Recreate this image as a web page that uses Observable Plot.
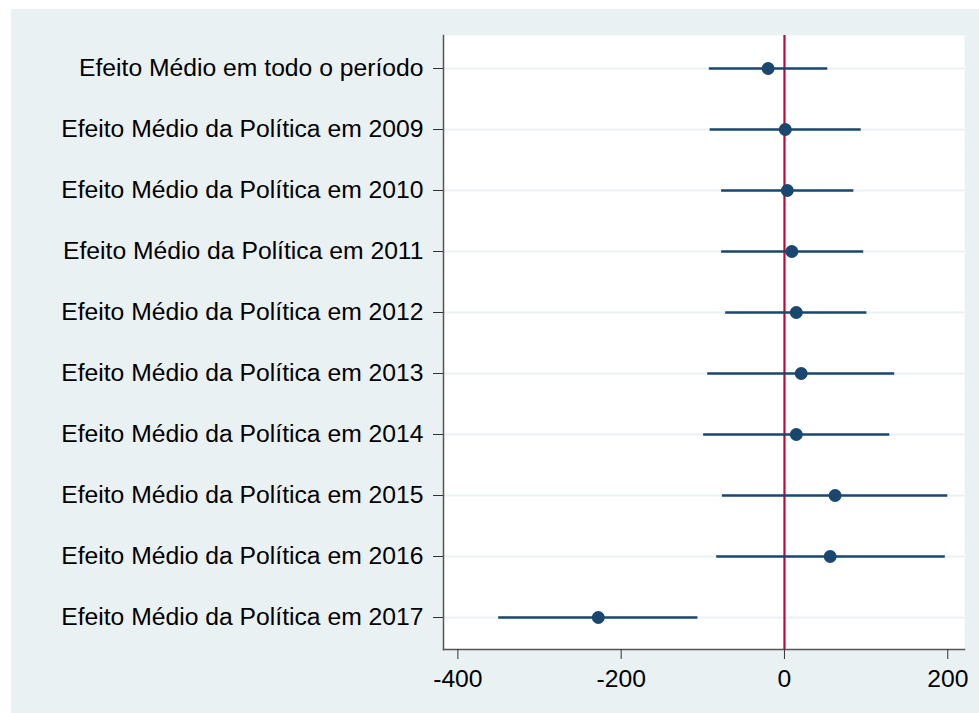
<!DOCTYPE html>
<html>
<head>
<meta charset="utf-8">
<script src="https://cdn.jsdelivr.net/npm/d3@7"></script>
<script src="https://cdn.jsdelivr.net/npm/@observablehq/plot@0.6"></script>
<style>
  html, body { margin: 0; padding: 0; background: #ffffff; width: 979px; height: 713px; overflow: hidden; }
  #chart { position: absolute; left: 11px; top: 9px; width: 968px; height: 704px; background: #eaf1f3; }
  #chart svg { display: block; }
</style>
</head>
<body>
<div id="chart"></div>
<script>
const labels = [
  "Efeito Médio em todo o período",
  "Efeito Médio da Política em 2009",
  "Efeito Médio da Política em 2010",
  "Efeito Médio da Política em 2011",
  "Efeito Médio da Política em 2012",
  "Efeito Médio da Política em 2013",
  "Efeito Médio da Política em 2014",
  "Efeito Médio da Política em 2015",
  "Efeito Médio da Política em 2016",
  "Efeito Médio da Política em 2017"
];
const estimates = [-20, 1, 3.5, 9, 14.5, 20.5, 14.5, 62, 56, -228];
const lower     = [-92, -91, -77, -77, -72, -94, -99, -76, -83, -350];
const upper     = [53, 94, 85, 97, 101, 135, 129, 200, 197, -106];
const xTicks = [-400, -200, 0, 200];

const data = labels.map((label, i) => ({label, est: estimates[i], lo: lower[i], hi: upper[i]}));

const navy = "#1a476f";
const font = "'Liberation Sans', Arial, sans-serif";

const chart = Plot.plot({
  width: 968,
  height: 704,
  marginLeft: 432,
  marginTop: 26,
  marginRight: 15,
  marginBottom: 64,
  style: { background: "transparent", fontFamily: font, fontSize: "24.7px", color: "#000" },
  x: { domain: [-417.6, 220.5], label: null },
  y: { type: "point", domain: labels, padding: 0.5, label: null },
  marks: [
    Plot.frame({ fill: "white", stroke: null }),
    Plot.ruleY(labels, { y: d => d, stroke: "#eaf1f3", strokeWidth: 2 }),
    Plot.ruleX([0], { stroke: "#c10534", strokeWidth: 2.2 }),
    Plot.ruleY(data, { y: "label", x1: "lo", x2: "hi", stroke: navy, strokeWidth: 2.5 }),
    Plot.dot(data, { x: "est", y: "label", r: 6.5, fill: navy, stroke: null }),
    Plot.frame({ anchor: "left", stroke: "#555", strokeWidth: 1.5 }),
    Plot.frame({ anchor: "bottom", stroke: "#555", strokeWidth: 1.5 }),
    Plot.axisY({ tickSize: 10, tickPadding: 10, fontSize: 24.7, stroke: "#333", fill: "#000", label: null }),
    Plot.axisX({ ticks: xTicks, tickFormat: d => String(d), tickSize: 10, tickPadding: 10, fontSize: 24.7, stroke: "#333", fill: "#000", label: null })
  ]
});
document.getElementById("chart").appendChild(chart);
</script>
</body>
</html>
